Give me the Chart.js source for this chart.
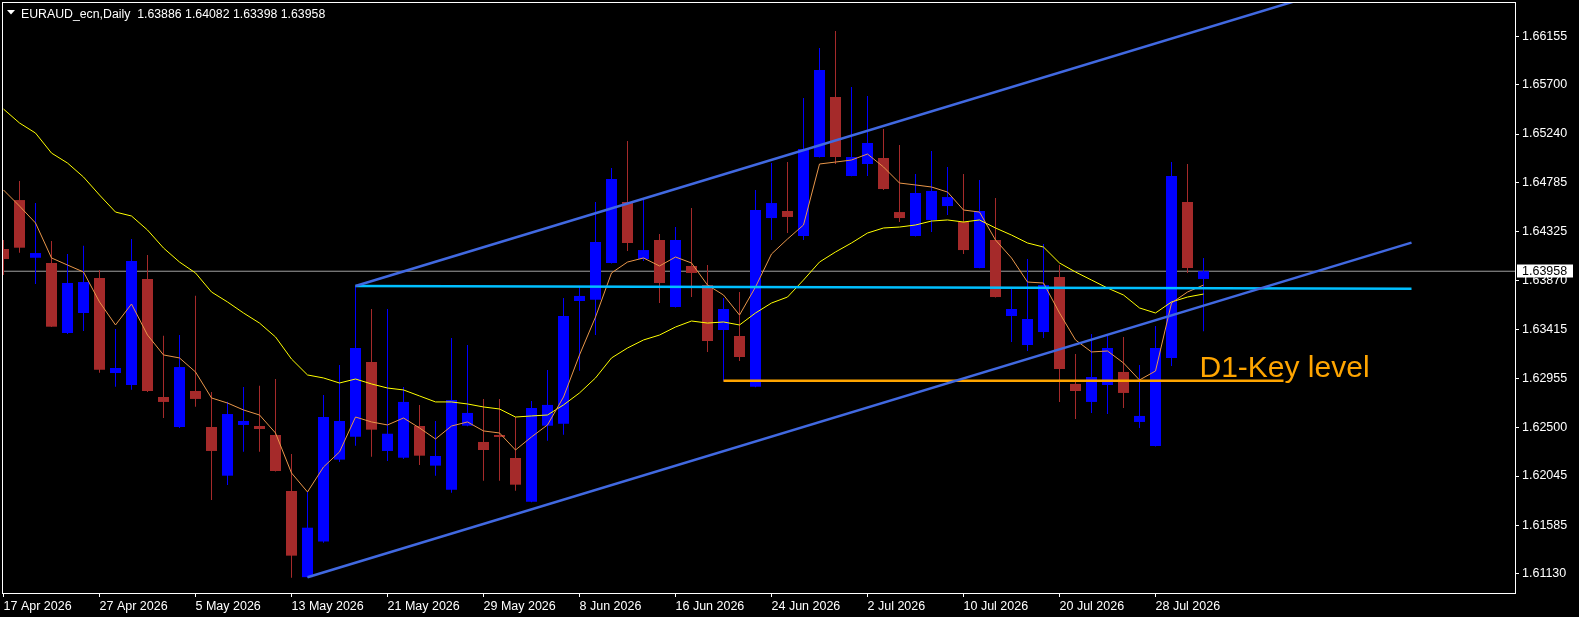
<!DOCTYPE html>
<html><head><meta charset="utf-8">
<script src="https://cdn.jsdelivr.net/npm/chart.js@4.4.1/dist/chart.umd.min.js"></script>
<style>html,body{margin:0;padding:0;background:#000;overflow:hidden}canvas{display:block}</style>
</head><body>
<canvas id="c" width="1579" height="617"></canvas>
<script>
// ---------- data ----------
const dates = ['17 Apr 2026','20 Apr 2026','21 Apr 2026','22 Apr 2026','23 Apr 2026','24 Apr 2026','27 Apr 2026','28 Apr 2026','29 Apr 2026','30 Apr 2026',
'1 May 2026','4 May 2026','5 May 2026','6 May 2026','7 May 2026','8 May 2026','11 May 2026','12 May 2026','13 May 2026','14 May 2026',
'15 May 2026','18 May 2026','19 May 2026','20 May 2026','21 May 2026','22 May 2026','25 May 2026','26 May 2026','27 May 2026','28 May 2026',
'29 May 2026','1 Jun 2026','2 Jun 2026','3 Jun 2026','4 Jun 2026','5 Jun 2026','8 Jun 2026','9 Jun 2026','10 Jun 2026','11 Jun 2026',
'12 Jun 2026','15 Jun 2026','16 Jun 2026','17 Jun 2026','18 Jun 2026','19 Jun 2026','22 Jun 2026','23 Jun 2026','24 Jun 2026','25 Jun 2026',
'26 Jun 2026','29 Jun 2026','30 Jun 2026','1 Jul 2026','2 Jul 2026','3 Jul 2026','6 Jul 2026','7 Jul 2026','8 Jul 2026','9 Jul 2026',
'10 Jul 2026','13 Jul 2026','14 Jul 2026','15 Jul 2026','16 Jul 2026','17 Jul 2026','20 Jul 2026','21 Jul 2026','22 Jul 2026','23 Jul 2026',
'24 Jul 2026','27 Jul 2026','28 Jul 2026','29 Jul 2026','30 Jul 2026','31 Jul 2026'];

const openP = [1.64166,1.64623,1.64084,1.64035,1.63381,1.63568,1.63895,1.63007,1.62895,1.63885,
1.62783,1.62503,1.62839,1.62503,1.62048,1.62522,1.62512,1.62428,1.61905,1.61100,
1.61432,1.62198,1.62412,1.63110,1.62279,1.62216,1.62512,1.62142,1.61917,1.62515,
1.62363,1.62428,1.62213,1.61805,1.62515,1.62534,1.63680,1.63692,1.64035,1.64605,
1.64072,1.64250,1.63624,1.64007,1.63829,1.63409,1.63353,1.62880,1.64455,1.64521,
1.64287,1.65025,1.65586,1.64848,1.64960,1.65016,1.64511,1.64287,1.64437,1.64567,
1.64418,1.63988,1.64250,1.63540,1.63269,1.63390,1.63904,1.62905,1.62737,1.62895,
1.63017,1.62550,1.62326,1.63148,1.64605,1.63886];

const highP = [1.64250,1.64801,1.64595,1.64240,1.64119,1.64197,1.63970,1.63418,1.64259,1.64110,
1.63356,1.63362,1.63730,1.62830,1.62739,1.62877,1.62889,1.62951,1.62251,1.61899,
1.62802,1.63082,1.63820,1.63605,1.63605,1.62877,1.62709,1.62559,1.63334,1.63269,
1.62765,1.62765,1.62596,1.62746,1.63035,1.63708,1.63811,1.64605,1.64922,1.65175,
1.64623,1.64306,1.64371,1.64549,1.64016,1.63708,1.63764,1.64717,1.64969,1.64978,
1.65576,1.66043,1.66202,1.65679,1.65595,1.65287,1.65137,1.64866,1.65081,1.64932,
1.64866,1.64810,1.64642,1.63792,1.64072,1.64212,1.64016,1.63185,1.63372,1.63353,
1.63344,1.63082,1.63446,1.64978,1.64960,1.64082];

const lowP = [1.63923,1.64131,1.63839,1.63437,1.63372,1.63400,1.63010,1.62879,1.62851,1.62830,
1.62587,1.62494,1.62693,1.61821,1.61961,1.62272,1.62272,1.62088,1.61095,1.61095,
1.61422,1.62176,1.62328,1.62226,1.62185,1.62204,1.62148,1.62048,1.61889,1.62510,
1.62001,1.62001,1.61908,1.61800,1.62375,1.62431,1.63029,1.63362,1.64030,1.64147,
1.64054,1.63661,1.63620,1.63717,1.63204,1.62935,1.63120,1.62875,1.64250,1.64315,
1.64250,1.65020,1.64960,1.64845,1.64848,1.64717,1.64418,1.64283,1.64325,1.64483,
1.64119,1.63985,1.63712,1.63297,1.63213,1.63334,1.62737,1.62578,1.62634,1.62624,
1.62681,1.62494,1.62320,1.63073,1.63942,1.63398];

const closeP = [1.64072,1.64178,1.64128,1.63440,1.63848,1.63857,1.63038,1.63054,1.64054,1.62839,
1.62737,1.63063,1.62765,1.62279,1.62624,1.62559,1.62484,1.62092,1.61301,1.61562,
1.62596,1.62559,1.63241,1.62478,1.62440,1.62737,1.62235,1.62232,1.62755,1.62634,
1.62288,1.62410,1.61964,1.62681,1.62709,1.63540,1.63727,1.64231,1.64820,1.64222,
1.64156,1.63848,1.64250,1.63942,1.63306,1.63605,1.63157,1.64530,1.64595,1.64465,
1.65100,1.65838,1.65025,1.65025,1.65156,1.64726,1.64455,1.64689,1.64708,1.64651,
1.64156,1.64521,1.63717,1.63605,1.63512,1.63829,1.63045,1.62839,1.62970,1.63241,
1.62821,1.62606,1.63241,1.64848,1.63988,1.63958];

const maFast = [1.64717,1.64567,1.64409,1.64082,1.64016,1.63951,1.63671,1.63456,1.63652,1.63362,
1.63176,1.63148,1.63017,1.62774,1.62727,1.62662,1.62615,1.62447,1.62073,1.61896,
1.62129,1.62270,1.62596,1.62550,1.62522,1.62587,1.62494,1.62391,1.62512,1.62550,
1.62466,1.62447,1.62288,1.62410,1.62522,1.62783,1.63176,1.63530,1.63942,1.64044,
1.64082,1.64007,1.64091,1.64035,1.63829,1.63736,1.63549,1.63811,1.64119,1.64259,
1.64390,1.64960,1.64978,1.64997,1.65053,1.64932,1.64782,1.64764,1.64745,1.64698,
1.64530,1.64511,1.64250,1.64082,1.63857,1.63848,1.63568,1.63316,1.63204,1.63213,
1.63101,1.62942,1.63026,1.63661,1.63764,1.63829];

const maSlow = [1.65473,1.65343,1.65249,1.65062,1.64969,1.64838,1.64670,1.64511,1.64474,1.64343,
1.64175,1.64044,1.63942,1.63764,1.63671,1.63568,1.63474,1.63344,1.63138,1.62989,
1.62961,1.62914,1.62951,1.62905,1.62867,1.62849,1.62793,1.62737,1.62737,1.62718,
1.62690,1.62671,1.62596,1.62606,1.62615,1.62709,1.62821,1.62961,1.63148,1.63241,
1.63316,1.63362,1.63437,1.63493,1.63474,1.63484,1.63456,1.63568,1.63661,1.63717,
1.63876,1.64044,1.64138,1.64222,1.64315,1.64362,1.64371,1.64390,1.64427,1.64437,
1.64418,1.64437,1.64362,1.64296,1.64222,1.64184,1.64035,1.63951,1.63876,1.63801,
1.63736,1.63615,1.63568,1.63671,1.63717,1.63745];

const yTickValues = [1.66155,1.65700,1.65240,1.64785,1.64325,1.63870,1.63415,1.62955,1.62500,1.62045,1.61585,1.61130];
const dateTickEvery = 6;
const titleText = 'EURAUD_ecn,Daily  1.63886 1.64082 1.63398 1.63958';
const bidPrice = 1.63958;

const upperChannelX = [22, 81],  upperChannelY = [1.63820, 1.66494];
const lowerChannelX = [19, 88],  lowerChannelY = [1.61099, 1.64225];
const resistX = [22, 88],        resistY = [1.63820, 1.63795];
const keyLevelX = [45, 80],      keyLevelY = [1.62935, 1.62935];
const keyLabelText = 'D1-Key level', keyLabelX = 74.75, keyLabelY = 1.62970;

// ---------- chart ----------
const X_MIN = -0.03125, X_MAX = 94.46875, Y_MIN = 1.60952, Y_MAX = 1.66464;
const idx = dates.map((_, i) => i);
const candleColors = idx.map(i => closeP[i] >= openP[i] ? '#0000FF' : '#A52A2A');
const pts = (xs, ys) => xs.map((x, k) => ({x, y: ys[k]}));
const lineDs = (data, color, width, order) => ({type:'line', data, borderColor:color, borderWidth:width, pointRadius:0, tension:0, fill:false, order});
const FONT = 'Liberation Sans';

const overlay = {
  id: 'overlay',
  afterDraw(chart) {
    const {ctx, chartArea: a, scales: {x, y}} = chart;
    ctx.save();
    ctx.strokeStyle = '#fff'; ctx.lineWidth = 1;
    ctx.strokeRect(a.left - 0.5, a.top - 0.5, a.right - a.left + 1, a.bottom - a.top + 1);
    // key level label
    ctx.fillStyle = '#FFA500';
    ctx.font = '30px "' + FONT + '"';
    ctx.textAlign = 'left'; ctx.textBaseline = 'alphabetic';
    ctx.fillText(keyLabelText, x.getPixelForValue(keyLabelX), y.getPixelForValue(keyLabelY));
    // title
    ctx.fillStyle = '#fff';
    ctx.beginPath(); ctx.moveTo(7, 10); ctx.lineTo(15, 10); ctx.lineTo(11, 14.5); ctx.closePath(); ctx.fill();
    ctx.font = '12.3px "' + FONT + '"';
    ctx.fillText(titleText, 21, 17.5);
    // bid box
    const py = Math.round(y.getPixelForValue(bidPrice));
    ctx.fillStyle = '#fff';
    ctx.fillRect(a.right + 2, py - 6.5, 56, 13);
    ctx.fillStyle = '#000';
    ctx.font = '12.5px "' + FONT + '"';
    ctx.textBaseline = 'middle';
    ctx.fillText(bidPrice.toFixed(5), a.right + 7, py + 0.5);
    ctx.restore();
  }
};

new Chart(document.getElementById('c'), {
  type: 'bar',
  data: {
    datasets: [
      lineDs(pts(upperChannelX, upperChannelY), '#4169E1', 2.5, 1),
      lineDs(pts(lowerChannelX, lowerChannelY), '#4169E1', 2.5, 1),
      lineDs(pts(resistX, resistY), '#00BFFF', 2.5, 1),
      lineDs(pts(keyLevelX, keyLevelY), '#FFA500', 2.5, 1),
      lineDs(idx.map(i => ({x: i, y: maFast[i]})), '#E8964A', 1, 2),
      lineDs(idx.map(i => ({x: i, y: maSlow[i]})), '#FFFF00', 1, 3),
      {type:'bar', data: idx.map(i => ({x: i, y: [openP[i], closeP[i]]})), backgroundColor: candleColors,
       barThickness: 11, grouped: false, inflateAmount: 0, borderWidth: 0, order: 5},
      {type:'bar', data: idx.map(i => ({x: i, y: [lowP[i], highP[i]]})), backgroundColor: candleColors,
       barThickness: 1, grouped: false, inflateAmount: 0, borderWidth: 0, order: 6},
      lineDs(pts([X_MIN, X_MAX], [bidPrice, bidPrice]), '#A0A0A0', 1, 7)
    ]
  },
  options: {
    responsive: false,
    animation: false,
    events: [],
    layout: {padding: {left: 3, top: 3, right: 0, bottom: 0}},
    plugins: {legend: {display: false}, tooltip: {enabled: false}, title: {display: false}},
    scales: {
      x: {
        type: 'linear', min: X_MIN, max: X_MAX, offset: false, bounds: 'data',
        afterBuildTicks: s => { s.ticks = idx.filter(i => i % dateTickEvery === 0).map(v => ({value: v})); },
        afterFit: s => { s.height = 24; s.paddingLeft = 0; s.paddingRight = 0; },
        ticks: {autoSkip: false, maxRotation: 0, minRotation: 0, align: 'start', color: '#fff', padding: 2,
                font: {family: FONT, size: 12.5}, callback: v => dates[v] ?? ''},
        grid: {display: true, offset: false, drawOnChartArea: false, drawTicks: true, tickLength: 4, color: '#fff', lineWidth: 1},
        border: {display: false}
      },
      y: {
        type: 'linear', position: 'right', min: Y_MIN, max: Y_MAX, bounds: 'data',
        afterBuildTicks: s => { s.ticks = yTickValues.map(v => ({value: v})); },
        afterFit: s => { s.width = 64; s.paddingTop = 0; s.paddingBottom = 0; },
        ticks: {color: '#fff', padding: 3, font: {family: FONT, size: 12.5}, callback: v => Number(v).toFixed(5)},
        grid: {display: true, drawOnChartArea: false, drawTicks: true, tickLength: 4, color: '#fff', lineWidth: 1},
        border: {display: false}
      }
    }
  },
  plugins: [overlay]
});
</script>
</body></html>
